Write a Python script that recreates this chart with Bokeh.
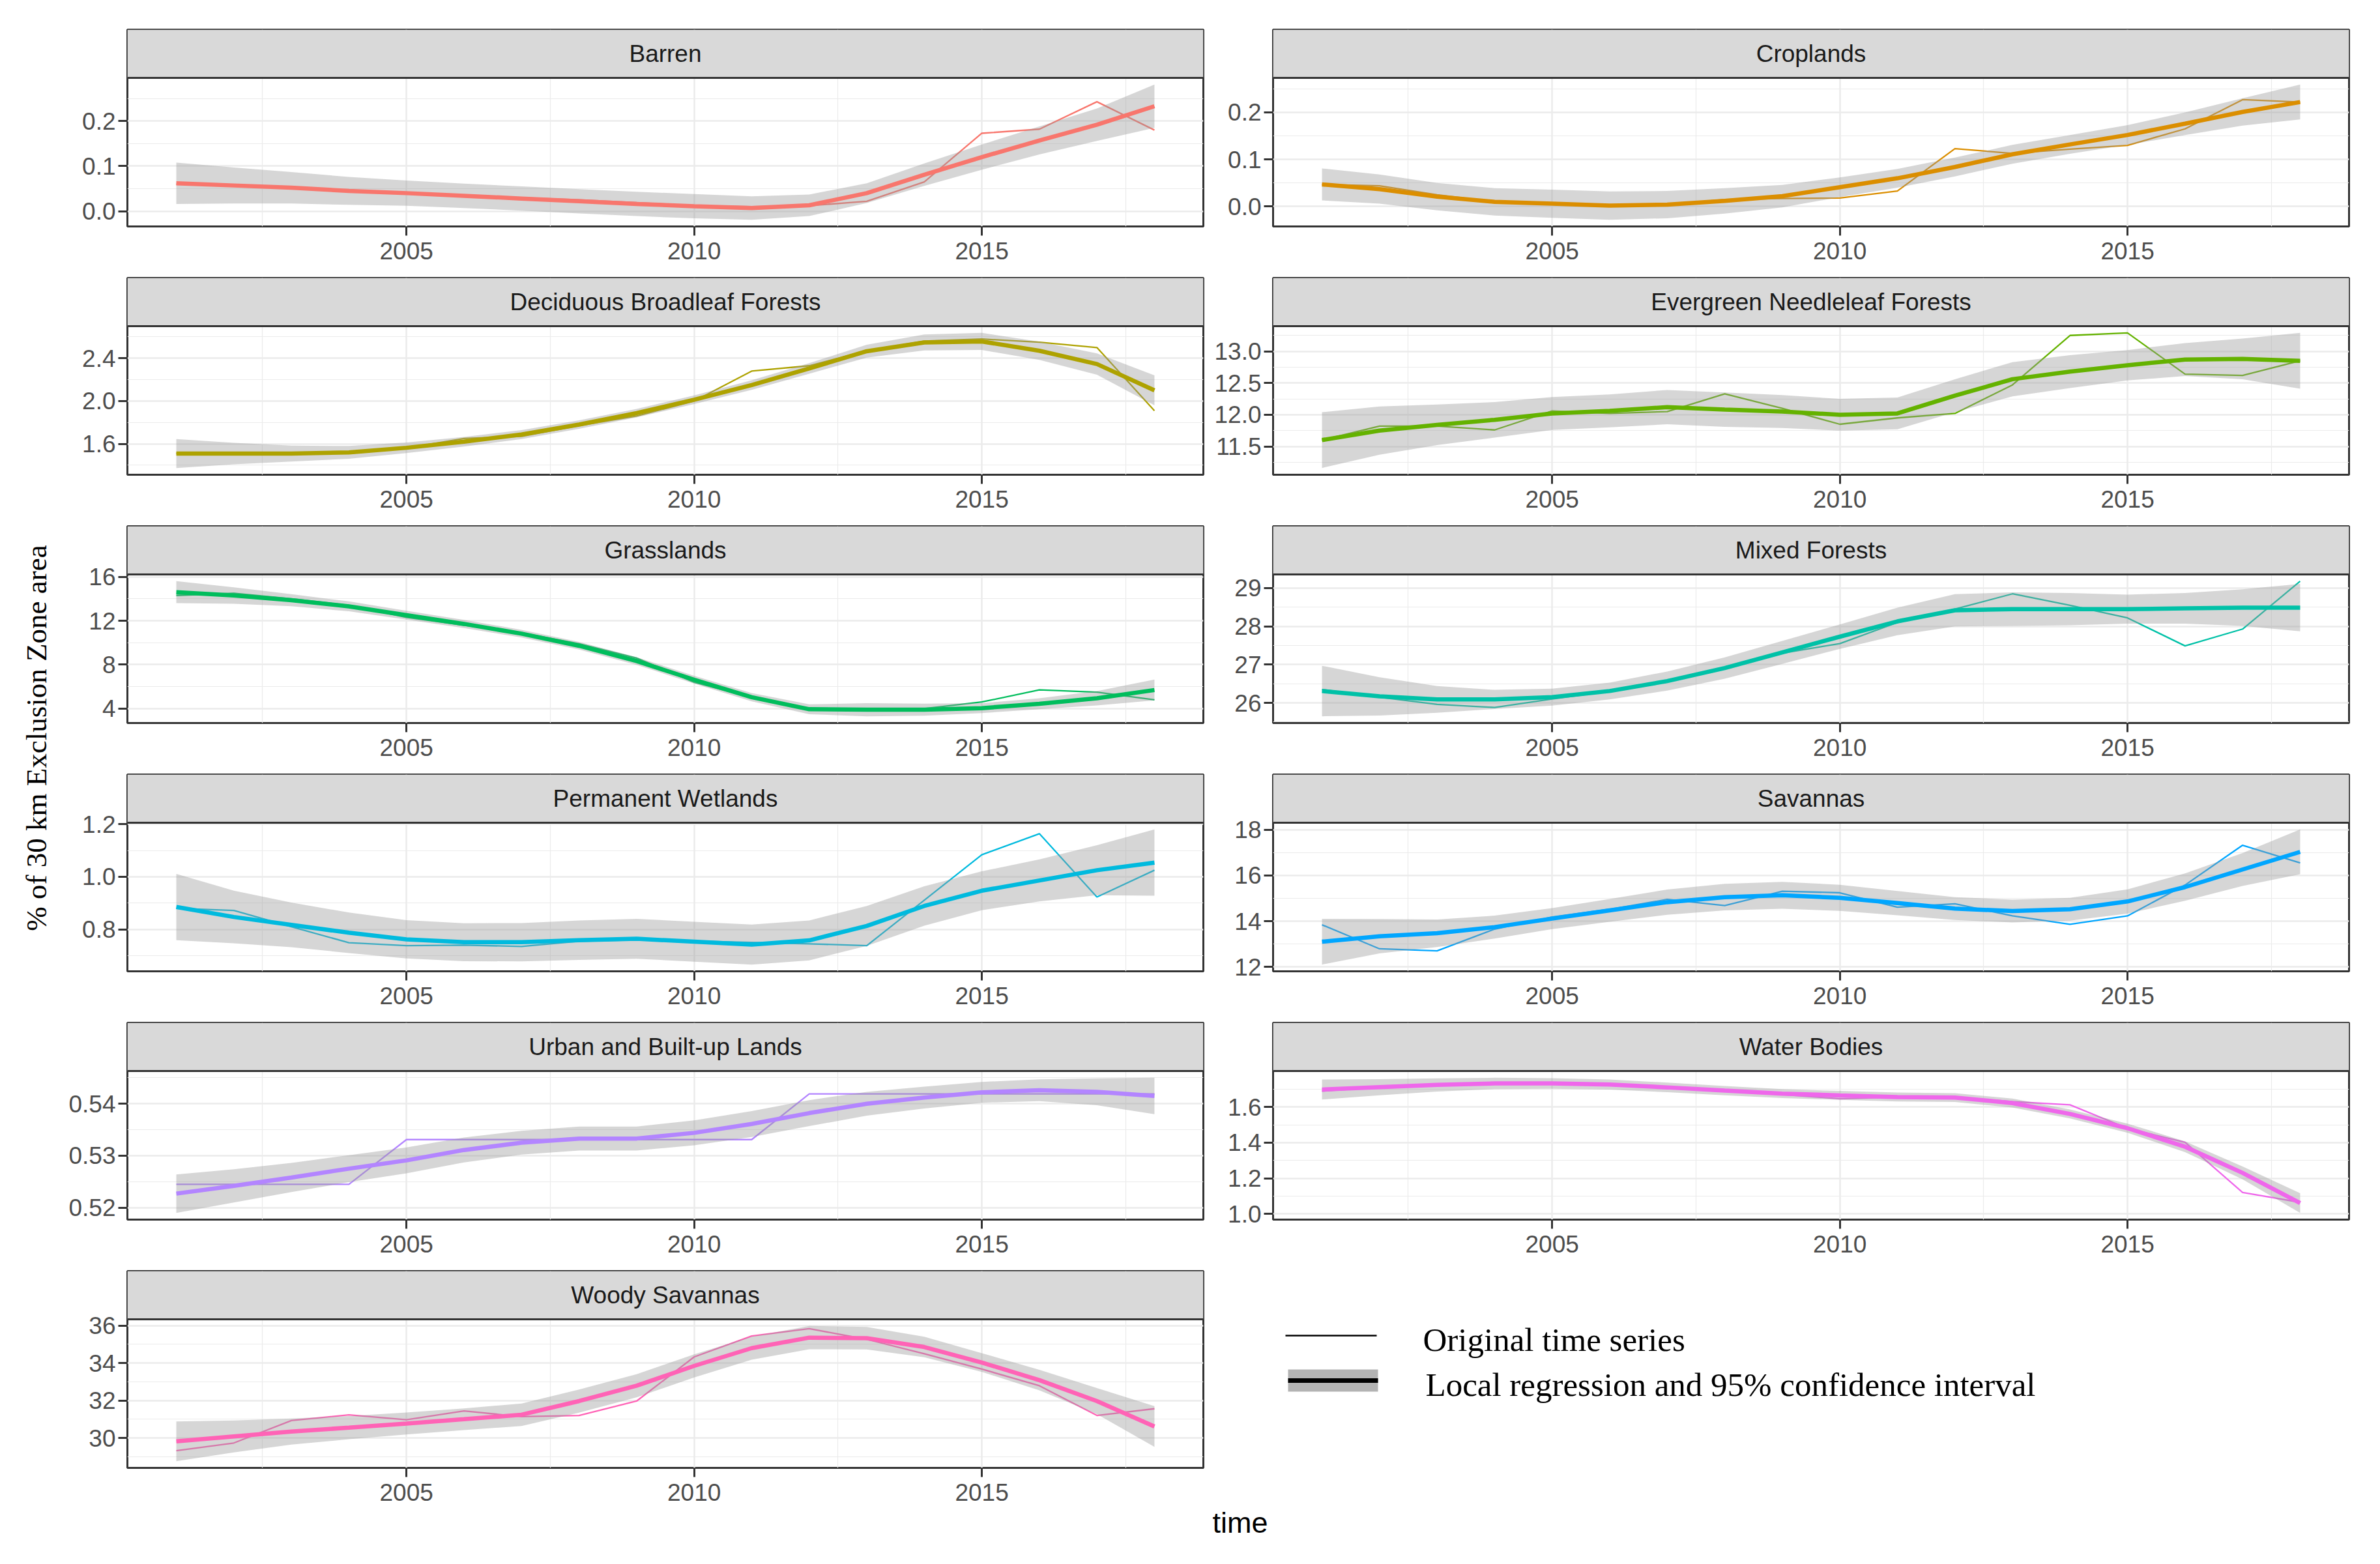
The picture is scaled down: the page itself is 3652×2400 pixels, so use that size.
import math
from bokeh.plotting import figure
from bokeh.layouts import row, column
from bokeh.models import Range1d, FixedTicker, NumeralTickFormatter, Span
from bokeh.embed import file_html
from bokeh.resources import INLINE
from bokeh.core.properties import value

years = list(range(2001, 2019))

barren_raw = [0.060, 0.056, 0.050, 0.045, 0.040, 0.035, 0.030, 0.025, 0.019, 0.012, 0.010, 0.012, 0.022, 0.065, 0.173, 0.182, 0.243, 0.180]
barren_fit = [0.062, 0.057, 0.052, 0.045, 0.040, 0.034, 0.028, 0.022, 0.016, 0.011, 0.007, 0.013, 0.040, 0.081, 0.120, 0.157, 0.192, 0.233]
barren_ci = [0.046, 0.040, 0.035, 0.031, 0.028, 0.027, 0.027, 0.027, 0.027, 0.027, 0.026, 0.024, 0.022, 0.025, 0.028, 0.031, 0.036, 0.048]

crop_raw = [0.047, 0.044, 0.025, 0.010, 0.005, 0.003, 0.004, 0.015, 0.017, 0.018, 0.033, 0.123, 0.113, 0.122, 0.130, 0.165, 0.227, 0.222]
crop_fit = [0.047, 0.037, 0.021, 0.010, 0.006, 0.002, 0.004, 0.012, 0.022, 0.041, 0.060, 0.084, 0.111, 0.132, 0.152, 0.176, 0.201, 0.222]
crop_ci = [0.034, 0.031, 0.029, 0.029, 0.030, 0.030, 0.029, 0.027, 0.024, 0.021, 0.020, 0.020, 0.020, 0.020, 0.021, 0.024, 0.029, 0.037]

dec_raw = [1.51, 1.51, 1.51, 1.51, 1.56, 1.65, 1.67, 1.77, 1.86, 2.00, 2.28, 2.33, 2.47, 2.56, 2.58, 2.55, 2.50, 1.91]
dec_fit = [1.509, 1.509, 1.509, 1.520, 1.563, 1.620, 1.687, 1.780, 1.887, 2.012, 2.150, 2.305, 2.466, 2.548, 2.557, 2.470, 2.346, 2.100]
dec_ci = [0.135, 0.100, 0.075, 0.060, 0.050, 0.045, 0.042, 0.040, 0.040, 0.040, 0.045, 0.050, 0.060, 0.075, 0.080, 0.085, 0.100, 0.140]

ever_raw = [11.60, 11.82, 11.82, 11.76, 12.06, 12.02, 12.05, 12.33, 12.10, 11.85, 11.95, 12.02, 12.47, 13.25, 13.29, 12.64, 12.62, 12.85]
ever_fit = [11.60, 11.75, 11.84, 11.92, 12.02, 12.06, 12.12, 12.08, 12.05, 12.00, 12.02, 12.30, 12.56, 12.68, 12.78, 12.87, 12.88, 12.85]
ever_ci = [0.44, 0.38, 0.32, 0.28, 0.26, 0.26, 0.27, 0.27, 0.26, 0.25, 0.25, 0.26, 0.27, 0.26, 0.24, 0.26, 0.32, 0.44]

grass_raw = [14.3, 14.5, 14.0, 13.4, 12.3, 11.6, 10.9, 9.9, 8.6, 6.4, 5.0, 4.0, 3.9, 4.0, 4.6, 5.7, 5.5, 4.8]
grass_fit = [14.60, 14.30, 13.87, 13.31, 12.51, 11.71, 10.82, 9.72, 8.33, 6.63, 5.04, 3.94, 3.90, 3.90, 4.04, 4.44, 4.94, 5.69]
grass_ci = [1.00, 0.75, 0.55, 0.45, 0.40, 0.37, 0.35, 0.35, 0.35, 0.35, 0.38, 0.45, 0.60, 0.55, 0.45, 0.50, 0.65, 0.95]

mixed_raw = [26.35, 26.15, 25.96, 25.88, 26.10, 26.30, 26.55, 26.90, 27.30, 27.55, 28.10, 28.45, 28.85, 28.55, 28.22, 27.49, 27.93, 29.18]
mixed_fit = [26.31, 26.17, 26.09, 26.09, 26.15, 26.31, 26.57, 26.91, 27.32, 27.73, 28.13, 28.42, 28.45, 28.45, 28.45, 28.47, 28.49, 28.49]
mixed_ci = [0.66, 0.50, 0.35, 0.25, 0.22, 0.22, 0.25, 0.28, 0.30, 0.32, 0.36, 0.42, 0.44, 0.42, 0.38, 0.40, 0.48, 0.62]

wet_raw = [0.880, 0.872, 0.810, 0.749, 0.738, 0.740, 0.735, 0.755, 0.760, 0.755, 0.750, 0.745, 0.738, 0.911, 1.084, 1.164, 0.923, 1.025]
wet_fit = [0.885, 0.847, 0.817, 0.787, 0.762, 0.751, 0.751, 0.759, 0.764, 0.753, 0.742, 0.758, 0.813, 0.889, 0.947, 0.986, 1.025, 1.054]
wet_ci = [0.126, 0.100, 0.085, 0.077, 0.073, 0.072, 0.073, 0.075, 0.076, 0.076, 0.076, 0.076, 0.076, 0.075, 0.074, 0.080, 0.095, 0.126]

sav_raw = [13.84, 12.79, 12.70, 13.65, 14.18, 14.52, 14.95, 14.68, 15.31, 15.24, 14.61, 14.76, 14.23, 13.86, 14.23, 15.58, 17.32, 16.55]
sav_fit = [13.10, 13.34, 13.47, 13.74, 14.11, 14.47, 14.83, 15.05, 15.13, 15.02, 14.79, 14.55, 14.44, 14.52, 14.86, 15.49, 16.26, 17.03]
sav_ci = [1.00, 0.75, 0.60, 0.50, 0.46, 0.50, 0.55, 0.58, 0.59, 0.57, 0.53, 0.50, 0.50, 0.50, 0.53, 0.60, 0.72, 0.98]

urb_raw = [0.5245, 0.5245, 0.5245, 0.5245, 0.5331, 0.5331, 0.5331, 0.5331, 0.5331, 0.5331, 0.5331, 0.5419, 0.5419, 0.5419, 0.5419, 0.5419, 0.5419, 0.5419]
urb_fit = [0.5227, 0.5242, 0.5258, 0.5275, 0.5291, 0.5311, 0.5325, 0.5333, 0.5333, 0.5344, 0.5361, 0.5382, 0.5400, 0.5412, 0.5422, 0.5426, 0.5423, 0.5415]
urb_ci = [0.0037, 0.0032, 0.0028, 0.0026, 0.0025, 0.0024, 0.0023, 0.0023, 0.0023, 0.0024, 0.0025, 0.0025, 0.0023, 0.0021, 0.0020, 0.0021, 0.0026, 0.0035]

water_raw = [1.689, 1.710, 1.725, 1.735, 1.735, 1.730, 1.710, 1.690, 1.670, 1.646, 1.655, 1.655, 1.630, 1.612, 1.480, 1.402, 1.120, 1.065]
water_fit = [1.698, 1.711, 1.724, 1.732, 1.732, 1.726, 1.710, 1.692, 1.675, 1.665, 1.656, 1.653, 1.622, 1.561, 1.481, 1.377, 1.230, 1.061]
water_ci = [0.056, 0.045, 0.037, 0.032, 0.030, 0.028, 0.027, 0.026, 0.025, 0.025, 0.025, 0.025, 0.025, 0.025, 0.026, 0.030, 0.036, 0.055]

woody_raw = [29.32, 29.73, 30.93, 31.23, 30.97, 31.44, 31.14, 31.20, 31.97, 34.33, 35.45, 35.84, 35.27, 34.50, 33.68, 32.79, 31.20, 31.56]
woody_fit = [29.82, 30.08, 30.34, 30.55, 30.77, 31.00, 31.24, 31.97, 32.79, 33.85, 34.80, 35.36, 35.33, 34.86, 34.03, 33.09, 31.97, 30.61]
woody_ci = [1.06, 0.85, 0.70, 0.62, 0.59, 0.58, 0.60, 0.62, 0.62, 0.62, 0.62, 0.62, 0.60, 0.55, 0.50, 0.55, 0.70, 1.09]

names = ["Barren", "Croplands", "Deciduous Broadleaf Forests", "Evergreen Needleleaf Forests",
         "Grasslands", "Mixed Forests", "Permanent Wetlands", "Savannas",
         "Urban and Built-up Lands", "Water Bodies", "Woody Savannas"]
colors = ["#F8766D", "#DB8E00", "#AEA200", "#64B200", "#00BD5C", "#00C1A7",
          "#00BADE", "#00A6FF", "#B385FF", "#EF67EB", "#FF63B6"]
raws = [barren_raw, crop_raw, dec_raw, ever_raw, grass_raw, mixed_raw, wet_raw, sav_raw, urb_raw, water_raw, woody_raw]
fits = [barren_fit, crop_fit, dec_fit, ever_fit, grass_fit, mixed_fit, wet_fit, sav_fit, urb_fit, water_fit, woody_fit]
cis = [barren_ci, crop_ci, dec_ci, ever_ci, grass_ci, mixed_ci, wet_ci, sav_ci, urb_ci, water_ci, woody_ci]
y_breaks = [[0.0, 0.1, 0.2], [0.0, 0.1, 0.2], [1.6, 2.0, 2.4], [11.5, 12.0, 12.5, 13.0],
            [4, 8, 12, 16], [26, 27, 28, 29], [0.8, 1.0, 1.2], [12, 14, 16, 18],
            [0.52, 0.53, 0.54], [1.0, 1.2, 1.4, 1.6], [30, 32, 34, 36]]
y_formats = ["0.0", "0.0", "0.0", "0.0", "0", "0", "0.0", "0", "0.00", "0.0", "0"]
x_breaks = [2005, 2010, 2015]
x_labels_fmt = "0"
y_title = "% of 30 km Exclusion Zone area"
x_title = "time"
legend_labels = ["Original time series", "Local regression and 95% confidence interval"]

# ---------------- layout constants (pixels) ----------------
FW = 1651          # panel frame width
STRIP_H = 74
PANEL_H = 228
GAP = 77
TOP0 = 45
PITCH = 2 + STRIP_H + PANEL_H + GAP
LAST_BOTTOM = 2384 - TOP0 - 5 * PITCH - STRIP_H - PANEL_H
YLAB_W = 85
ML = [110, 97]     # min border left for left / right column
MR = [10, 32]
GRID = "#EBEBEB"
BORDER = "#333333"
SANS = "Liberation Sans"
SERIF = "Liberation Serif"


def minor_of(b, lo, hi):
    step = b[1] - b[0]
    m = [b[0] - step / 2] + [(b[i] + b[i + 1]) / 2 for i in range(len(b) - 1)] + [b[-1] + step / 2]
    return [v for v in m if lo <= v <= hi]


def make_panel(i, side, r):
    raw, fit, ci = raws[i], fits[i], cis[i]
    lo = [f - c for f, c in zip(fit, ci)]
    hi = [f + c for f, c in zip(fit, ci)]
    vmin = min(min(lo), min(raw))
    vmax = max(max(hi), max(raw))
    pad = 0.05 * (vmax - vmin)
    y0, y1 = vmin - pad, vmax + pad
    ytop = y1 + (y1 - y0) * STRIP_H / PANEL_H
    xpad = 0.05 * (years[-1] - years[0])
    x0, x1 = years[0] - xpad, years[-1] + xpad
    p = figure(frame_width=FW, frame_height=STRIP_H + PANEL_H,
               x_range=Range1d(x0, x1), y_range=Range1d(y0, ytop),
               toolbar_location=None, output_backend="svg",
               min_border_left=ML[side], min_border_right=MR[side],
               min_border_top=TOP0 if r == 0 else 2,
               min_border_bottom=LAST_BOTTOM if r == 5 else GAP)
    p.background_fill_color = "white"
    p.border_fill_color = "white"
    p.outline_line_color = BORDER
    p.outline_line_width = 3

    p.xaxis.ticker = FixedTicker(ticks=x_breaks, minor_ticks=minor_of(x_breaks, x0, x1))
    p.yaxis.ticker = FixedTicker(ticks=y_breaks[i], minor_ticks=minor_of(y_breaks[i], y0, y1))
    p.xaxis.formatter = NumeralTickFormatter(format=x_labels_fmt)
    p.yaxis.formatter = NumeralTickFormatter(format=y_formats[i])
    for ax in (p.xaxis[0], p.yaxis[0]):
        ax.axis_line_color = None
        ax.major_tick_line_color = BORDER
        ax.major_tick_line_width = 3
        ax.major_tick_out = 14
        ax.major_tick_in = 0
        ax.minor_tick_line_color = None
        ax.major_label_text_font = SANS
        ax.major_label_text_font_size = "37px"
        ax.major_label_text_color = "#4D4D4D"
    p.xaxis.major_label_standoff = 10
    p.yaxis.major_label_standoff = 4
    for g in (p.xgrid[0], p.ygrid[0]):
        g.grid_line_color = GRID
        g.grid_line_width = 2.5
        g.minor_grid_line_color = GRID
        g.minor_grid_line_width = 1.2

    p.line(years, raw, line_color=colors[i], line_width=2.3)
    p.varea(x=years, y1=lo, y2=hi, fill_color="#999999", fill_alpha=0.4)
    p.line(years, fit, line_color=colors[i], line_width=6.5)

    # facet strip (top part of the frame)
    p.quad(left=[x0], right=[x1], bottom=[y1], top=[ytop], fill_color="#D9D9D9", line_color=None)
    p.add_layout(Span(location=y1, dimension="width", line_color=BORDER, line_width=3))
    p.text(x=[(x0 + x1) / 2], y=[(y1 + ytop) / 2], text=[names[i]], text_align="center",
           text_baseline="middle", text_font=value(SANS), text_font_size="37px", text_color="#1A1A1A")
    return p


left_items, right_items = [], []
for i in range(len(names)):
    side, r = i % 2, i // 2
    (left_items if side == 0 else right_items).append(make_panel(i, side, r))

# legend + x title in the empty bottom-right slot (frame aligned with the right column)
LEG_FH = 351
LEG_BOTTOM = STRIP_H + PANEL_H + LAST_BOTTOM - LEG_FH
fx0 = 8 + YLAB_W + ML[0] + FW + MR[0] + ML[1]      # page x of the frame's left edge
fy0 = 8 + TOP0 + 5 * PITCH                        # page y of the frame's top edge
leg = figure(frame_width=FW, frame_height=LEG_FH,
             x_range=Range1d(fx0, fx0 + FW), y_range=Range1d(fy0 + LEG_FH, fy0),
             x_axis_type=None, y_axis_type=None, toolbar_location=None, output_backend="svg",
             min_border_left=ML[1], min_border_right=MR[1], min_border_top=2,
             min_border_bottom=LEG_BOTTOM, title=x_title, title_location="below")
leg.outline_line_color = None
leg.border_fill_color = "white"
leg.background_fill_color = "white"
leg.title.align = "left"
leg.title.offset = 1868 - fx0
leg.title.standoff = 14
leg.title.text_font = SANS
leg.title.text_font_size = "45px"
leg.title.text_font_style = "normal"
leg.title.text_color = "black"

leg.segment(x0=[1980], y0=[2057], x1=[2120], y1=[2057], line_color="black", line_width=2.3)
leg.quad(left=[1984], right=[2122], top=[2109], bottom=[2143], fill_color="#B3B3B3", line_color=None)
leg.segment(x0=[1984], y0=[2126], x1=[2122], y1=[2126], line_color="black", line_width=7)
leg.text(x=[2191, 2195], y=[2063, 2132], text=legend_labels, text_align="left", text_baseline="middle",
         text_font=value(SERIF), text_font_size="51px", text_color="black")
right_items.append(leg)

TOTAL_H = 2384
yl = figure(width=YLAB_W, height=TOTAL_H, x_range=Range1d(0, YLAB_W), y_range=Range1d(TOTAL_H, 0),
            x_axis_type=None, y_axis_type=None, toolbar_location=None, output_backend="svg",
            min_border=0)
yl.outline_line_color = None
yl.text(x=[55], y=[1132], text=[y_title], angle=math.pi / 2, text_align="center", text_baseline="middle",
        text_font=value(SERIF), text_font_size="45px", text_color="black")

page = row(yl, column(*left_items, spacing=0), column(*right_items, spacing=0), spacing=0)

open("out.html", "w").write(file_html(page, INLINE))
